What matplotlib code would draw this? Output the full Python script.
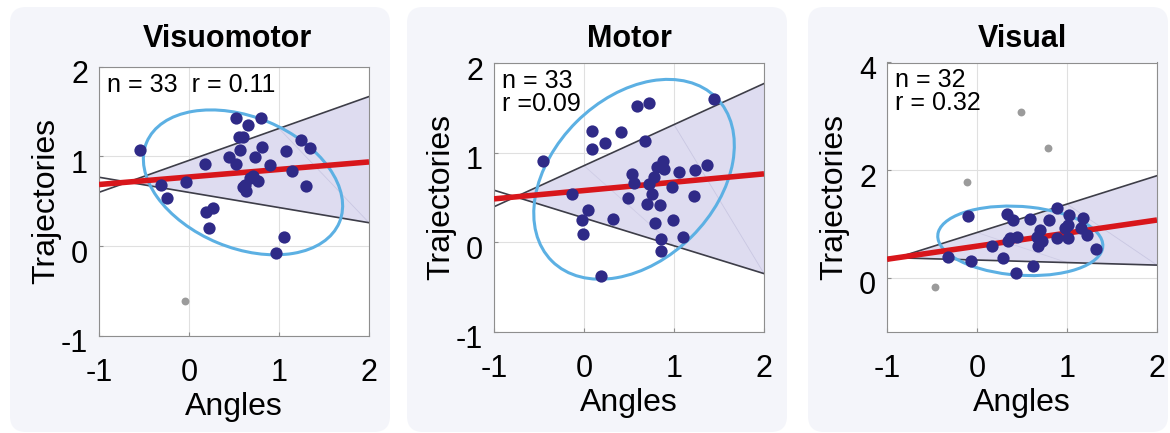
import numpy as np
import matplotlib
matplotlib.use('Agg')
import matplotlib.pyplot as plt
import matplotlib.transforms as mtransforms
from matplotlib.patches import Ellipse, FancyBboxPatch

plt.rcParams['font.family'] = ['Liberation Sans', 'DejaVu Sans']
plt.rcParams['axes.unicode_minus'] = False

titles = ['Visuomotor', 'Motor', 'Visual']
notes = ['n = 33  r = 0.11', 'n = 33\nr =0.09', 'n = 32\nr = 0.32']

# Visuomotor
vm_x = [-0.548, 0.519, 0.796, 0.656, 0.556, 0.600, 0.570, 0.815, 1.074, 1.241, 1.341,
        0.444, 0.519, 0.737, 0.174, 0.896, 1.144, -0.037, -0.307, -0.241, 0.711, 0.674,
        0.767, 0.619, 0.600, 0.637, 1.304, 0.267, 0.193, 0.222, 1.052, 0.970]
vm_y = [1.074, 1.426, 1.430, 1.352, 1.211, 1.211, 1.074, 1.100, 1.063, 1.178, 1.089,
        0.989, 0.919, 0.993, 0.919, 0.900, 0.833, 0.719, 0.685, 0.537, 0.785, 0.759,
        0.730, 0.685, 0.659, 0.619, 0.667, 0.426, 0.381, 0.196, 0.104, -0.074]
vm_out_x = [-0.04]
vm_out_y = [-0.615]

# Motor
mo_x = [0.585, 0.726, 1.444, 0.093, 0.411, 0.233, 0.085, 0.678, 0.874, 0.807, 0.889,
        1.059, 1.233, 1.363, 0.530, 0.781, 0.556, 0.726, 0.974, 0.752, -0.137, 0.493,
        0.704, 0.844, 1.226, 0.048, -0.026, 0.319, 0.789, 0.985, -0.008, 0.856, 1.096,
        0.859, 0.193, -0.456]
mo_y = [1.515, 1.559, 1.600, 1.237, 1.230, 1.107, 1.041, 1.126, 0.911, 0.837, 0.822,
        0.785, 0.811, 0.867, 0.763, 0.730, 0.663, 0.652, 0.615, 0.544, 0.541, 0.489,
        0.430, 0.411, 0.515, 0.359, 0.244, 0.256, 0.219, 0.244, 0.089, 0.033, 0.059,
        -0.093, -0.375, 0.907]
mo_out_x = []
mo_out_y = []

# Visual
vi_x = [-0.097, 0.330, 0.396, 0.589, 0.804, 0.885, 1.026, 1.008, 1.181, 1.152, 1.219,
        1.322, 0.978, 1.015, 0.885, 0.700, 0.670, 0.719, 0.681, 0.441, 0.367, 0.341,
        0.163, -0.067, 0.293, 0.626, 0.430, -0.322]
vi_y = [1.154, 1.185, 1.074, 1.087, 1.074, 1.290, 1.167, 0.981, 1.105, 0.920, 0.796,
        0.531, 0.920, 0.735, 0.735, 0.889, 0.765, 0.673, 0.580, 0.765, 0.735, 0.691,
        0.598, 0.302, 0.365, 0.222, 0.087, 0.389]
vi_out_x = [0.485, 0.793, -0.107, -0.463]
vi_out_y = [3.074, 2.407, 1.778, -0.167]

pts_x = [vm_x, mo_x, vi_x]
pts_y = [vm_y, mo_y, vi_y]
out_x = [vm_out_x, mo_out_x, vi_out_x]
out_y = [vm_out_y, mo_out_y, vi_out_y]

# fit lines: pivot point, slope of fit, lower and upper bound slopes
pivot_x = [-0.68, -0.76, -0.89]
pivot_y = [0.713, 0.507, 0.37]
slope_fit = [0.084, 0.093, 0.243]
slope_lo = [-0.169, -0.31, -0.047]
slope_hi = [0.356, 0.458, 0.528]

# ellipses: center, width, height, angle
ell_cx = [0.60, 0.556, 0.481]
ell_cy = [0.71, 0.703, 0.685]
ell_w = [2.32, 2.58, 1.85]
ell_h = [1.46, 1.81, 1.27]
ell_ang = [-22.6, 45.0, -10.3]

ylims = [(-1, 2), (-1, 2), (-1, 4)]
yticks = [[-1, 0, 1, 2], [-1, 0, 1, 2], [0, 2, 4]]
xticks = [-1, 0, 1, 2]

W, H = 1170, 433
fig = plt.figure(figsize=(W / 100, H / 100), dpi=100)
fig.patch.set_facecolor('white')

# card backgrounds (pixels)
cards = [(10, 390), (407, 787), (808, 1168)]
for c0, c1 in cards:
    card = FancyBboxPatch((c0, 1), c1 - c0, 425,
                          boxstyle='round,pad=0,rounding_size=16',
                          fc='#f4f5fa', ec='none', zorder=-5,
                          transform=mtransforms.IdentityTransform())
    fig.add_artist(card)

# axes boxes in pixels: left, top
ax_pos = [(99, 66.7), (494, 63), (887, 62.5)]
aw, ah = 270, 269
title_dx = [-7, 0, 0]

dot_col = '#2f2a87'
for i in range(3):
    left, top = ax_pos[i]
    ax = fig.add_axes([left / W, (H - top - ah) / H, aw / W, ah / H])
    ax.set_xlim(-1, 2)
    ax.set_ylim(*ylims[i])

    px, py = pivot_x[i], pivot_y[i]
    xs = np.array([-1.0, 2.0])
    xf = np.array([px, 2.0])
    up = lambda x: py + slope_hi[i] * (x - px)
    lo = lambda x: py + slope_lo[i] * (x - px)

    ax.fill_between(xf, lo(xf), up(xf), color='#dedcf0', lw=0, zorder=1)
    # faint triangulation seam inside the shaded wedge
    ax.plot([1, 2], [up(1.0), lo(2.0)], color='#c9c7e2', lw=0.6, zorder=1.5)
    if i > 0:
        ax.plot([0, 1], [up(0.0), lo(1.0)], color='#cfcde6', lw=0.6, zorder=1.5)
    ax.plot(xs, up(xs), color='#3d3d48', lw=1.2, zorder=2)
    ax.plot(xs, lo(xs), color='#3d3d48', lw=1.2, zorder=2)

    ell = Ellipse((ell_cx[i], ell_cy[i]), ell_w[i], ell_h[i], angle=ell_ang[i],
                  fill=False, ec='#5cb0e3', lw=2.2, zorder=3)
    ax.add_patch(ell)

    ax.plot(xs, py + slope_fit[i] * (xs - px), color='#d8161b', lw=4,
            solid_capstyle='butt', zorder=4)

    ax.scatter(pts_x[i], pts_y[i], s=78, c=dot_col, lw=0, zorder=5)
    if len(out_x[i]) > 0:
        ax.scatter(out_x[i], out_y[i], s=32, c='#9b9b9b', lw=0, zorder=5)

    ax.set_xticks(xticks)
    ax.set_yticks(yticks[i])
    ax.grid(True, color='#e0e0e0', lw=0.8)
    ax.set_axisbelow(True)
    for sp in ax.spines.values():
        sp.set_color('#8e8e8e')
        sp.set_linewidth(0.8)
    ax.tick_params(axis='both', direction='in', length=3, color='#8e8e8e',
                   labelsize=22, top=False, right=False)
    ax.tick_params(axis='x', pad=16)
    ax.tick_params(axis='y', pad=8)
    offset = mtransforms.ScaledTranslation(0, -5 / 100, fig.dpi_scale_trans)
    for lab in ax.get_yticklabels():
        lab.set_transform(lab.get_transform() + offset)

    ax.set_xlabel('Angles', fontsize=23)
    ax.xaxis.set_label_coords(0.5, -0.21)
    ax.set_ylabel('Trajectories', fontsize=23)
    ax.yaxis.set_label_coords(-0.141, 0.5)

    ax.text(0.03, 0.978, notes[i], transform=ax.transAxes, ha='left', va='top',
            fontsize=18, linespacing=0.95, zorder=6)

    fig.text((left + aw / 2 + title_dx[i]) / W, (H - 47) / H, titles[i],
             ha='center', va='baseline', fontsize=22, fontweight='bold')

fig.savefig('out.png', dpi=100)
